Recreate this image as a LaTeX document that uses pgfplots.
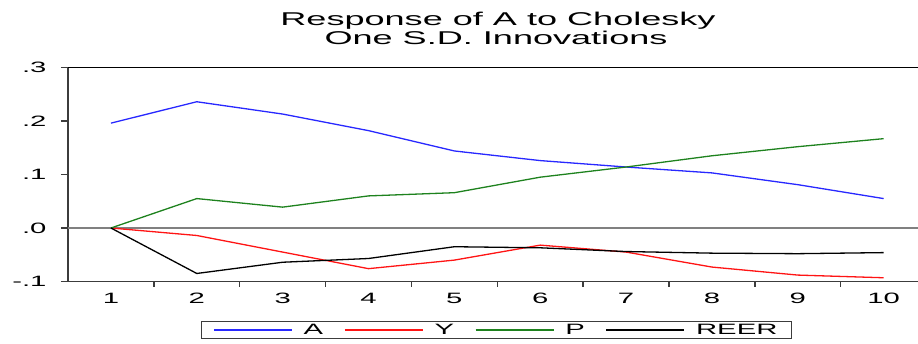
\documentclass[border=0pt]{standalone}
\usepackage{pgfplots}
\pgfplotsset{compat=1.18}
\usepackage{fontspec}
\setmainfont{Liberation Sans}[FakeStretch=1.95]

\definecolor{axisgray}{RGB}{60,60,60}
\definecolor{zerogray}{RGB}{128,128,128}
\definecolor{irfblue}{RGB}{40,40,255}
\definecolor{irfred}{RGB}{255,20,20}
\definecolor{irfgreen}{RGB}{30,130,30}

\begin{document}
\begin{tikzpicture}[x=1pt,y=1pt]
\useasboundingbox (-68,-61.5) rectangle (850,281.5);
\begin{axis}[
  at={(0,0)}, anchor=south west,
  scale only axis, width=850pt, height=214pt,
  xmin=0.5, xmax=10.4, ymin=-0.1, ymax=0.3,
  axis x line*=bottom, axis y line*=left,
  axis line style={draw=axisgray, line width=1.6pt},
  /pgf/number format/assume math mode=true,
  tick label style={font=\fontsize{15}{18}\selectfont, text=black},
  xtick={1,2,3,4,5,6,7,8,9,10},
  xticklabels={1,2,3,4,5,6,7,8,9,10},
  minor xtick={1.5,2.5,3.5,4.5,5.5,6.5,7.5,8.5,9.5},
  major x tick style={draw=none},
  minor tick length=5pt,
  minor tick style={draw=axisgray, line width=1.4pt},
  ytick={-0.1,0,0.1,0.2,0.3},
  yticklabels={-.1,.0,.1,.2,.3},
  major tick length=7pt,
  major tick style={draw=axisgray, line width=1.2pt},
  tick align=outside,
  yticklabel style={xshift=-11pt},
  xticklabel style={yshift=-1pt},
  clip=false,
  legend columns=4,
  legend style={at={(0.504,-0.2266)}, anchor=center,
    draw=axisgray, line width=1pt, inner xsep=12pt, inner ysep=1pt,
    font=\fontsize{15}{18}\selectfont,
    /tikz/every odd column/.style={column sep=9pt},
    /tikz/every even column/.style={column sep=19pt}},
  legend cell align=left,
  legend image code/.code={\draw[#1] (0pt,0pt) -- (78pt,0pt);},
]
% reference line at zero and top frame
\draw[zerogray, line width=1.2pt] (axis cs:0.5,0) -- (axis cs:10.4,0);
\draw[black, line width=1.2pt] (rel axis cs:0,1) -- (rel axis cs:1,1);

\addplot[irfblue, line width=1.3pt] coordinates {
  (1,0.196) (2,0.236) (3,0.213) (4,0.182) (5,0.144)
  (6,0.126) (7,0.114) (8,0.103) (9,0.081) (10,0.055)};
\addlegendentry{A}
\addplot[irfred, line width=1.3pt] coordinates {
  (1,0) (2,-0.014) (3,-0.045) (4,-0.076) (5,-0.060)
  (6,-0.032) (7,-0.045) (8,-0.073) (9,-0.088) (10,-0.093)};
\addlegendentry{Y}
\addplot[irfgreen, line width=1.3pt] coordinates {
  (1,0) (2,0.055) (3,0.039) (4,0.060) (5,0.066)
  (6,0.095) (7,0.114) (8,0.135) (9,0.152) (10,0.167)};
\addlegendentry{P}
\addplot[black, line width=1.3pt] coordinates {
  (1,0) (2,-0.085) (3,-0.064) (4,-0.057) (5,-0.035)
  (6,-0.037) (7,-0.044) (8,-0.047) (9,-0.048) (10,-0.046)};
\addlegendentry{REER}
\end{axis}
\node[anchor=base, font=\fontsize{18.5}{22}\selectfont] at (430,255.5) {Response of A to Cholesky};
\node[anchor=base, font=\fontsize{18.5}{22}\selectfont] at (428,236.5) {One S.D. Innovations};
\end{tikzpicture}
\end{document}
